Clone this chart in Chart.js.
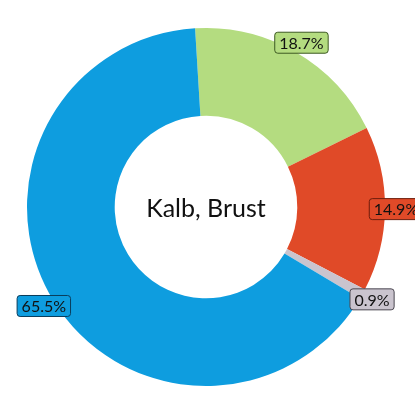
<!DOCTYPE html>
<html>
<head>
<meta charset="utf-8">
<script src="https://cdn.jsdelivr.net/npm/chart.js@4"></script>
<style>
  body { margin: 0; background: #fff; }
  #wrap { width: 415px; height: 415px; }
</style>
</head>
<body>
<div id="wrap"><canvas id="myChart" width="415" height="415"></canvas></div>
<script>
// data
var labels = ['Fett', 'Protein', 'Kohlenhydrate', 'Wasser'];
var values = [18.7, 14.9, 0.9, 65.5];
var colors = ['#b4dc80', '#e04a28', '#cac4ce', '#0e9ddf'];
var borders = ['#3d5a22', '#6e1d0c', '#4a4650', '#0a3d5c'];
var title = 'Kalb, Brust';

// labels in little boxes just outside the ring
var boxLabels = {
  id: 'boxLabels',
  afterDatasetsDraw: function(chart) {
    var c = chart.ctx;
    var meta = chart.getDatasetMeta(0);
    c.save();
    c.font = '16px Lato';
    c.textAlign = 'center';
    c.textBaseline = 'middle';
    meta.data.forEach(function(arc, i) {
      var p = arc.getProps(['x', 'y', 'startAngle', 'endAngle', 'outerRadius'], true);
      var a = (p.startAngle + p.endAngle) / 2;
      var r = p.outerRadius + 11;
      var x = p.x + Math.cos(a) * r, y = p.y + Math.sin(a) * r;
      var txt = values[i].toFixed(1) + '%';
      var w = c.measureText(txt).width + 9, h = 21;
      c.beginPath();
      c.roundRect(x - w / 2, y - h / 2, w, h, 3);
      c.fillStyle = colors[i];
      c.fill();
      c.lineWidth = 1;
      c.strokeStyle = borders[i];
      c.stroke();
      c.fillStyle = '#111';
      c.fillText(txt, x, y + 1);
    });
    // centre text
    c.font = '25px Lato';
    c.fillStyle = '#111';
    c.fillText(title, meta.data[0].x, meta.data[0].y + 2);
    c.restore();
  }
};

var ctx = document.getElementById('myChart').getContext('2d');
var myChart = new Chart(ctx, {
  type: 'doughnut',
  data: {
    labels: labels,
    datasets: [{
      data: values,
      backgroundColor: colors,
      borderWidth: 0
    }]
  },
  options: {
    responsive: false,
    animation: false,
    cutout: '51%',
    rotation: -3.5,
    layout: { padding: { left: 27, right: 30, top: 27, bottom: 28 } },
    plugins: {
      legend: { display: false },
      tooltip: { enabled: false }
    }
  },
  plugins: [boxLabels]
});
</script>
</body>
</html>
